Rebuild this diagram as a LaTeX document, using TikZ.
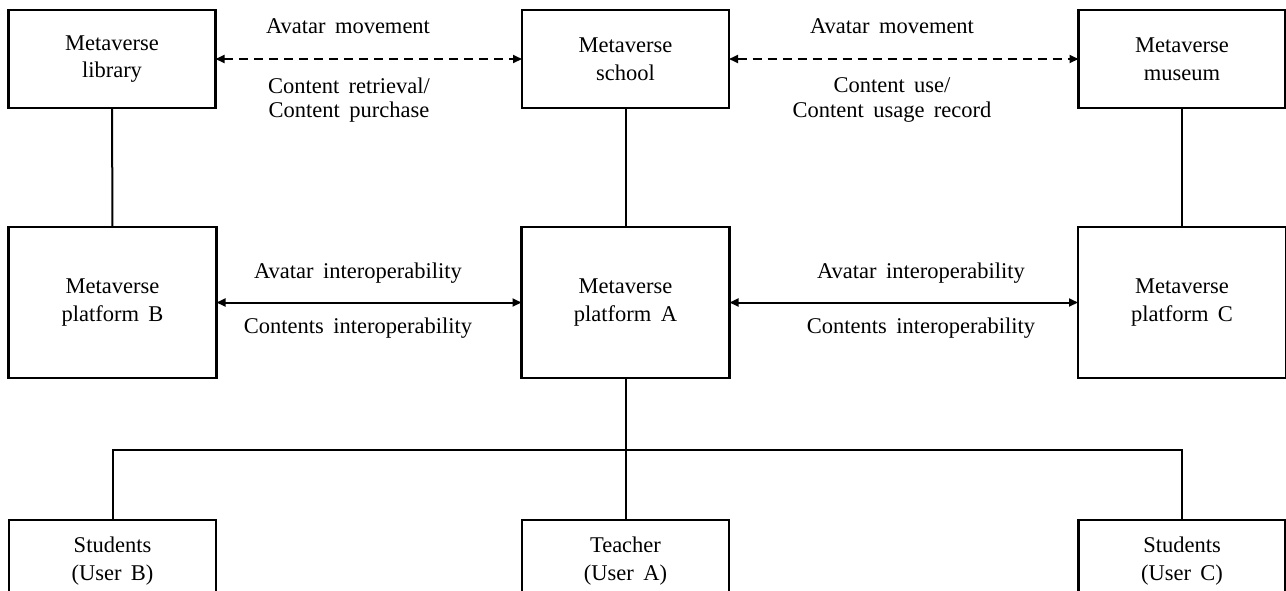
\documentclass[tikz,border=0pt]{standalone}
\usepackage{fontspec}
\setmainfont{Liberation Serif}
\usetikzlibrary{arrows.meta}

% body font used for every text in the figure
\newcommand{\figfont}{\fontsize{22.5}{27.5}\selectfont\spaceskip=0.42em plus 0.1em minus 0.1em\relax}
\newcommand{\labfont}{\fontsize{22.5}{24.5}\selectfont\spaceskip=0.42em plus 0.1em minus 0.1em\relax}

\tikzset{
  unitbox/.style={draw, line width=2.2pt, inner sep=0pt, outer sep=0pt,
    align=center, font=\figfont},
  topbox/.style={unitbox, minimum width=207pt, minimum height=98pt},
  platbox/.style={unitbox, minimum width=208pt, minimum height=151pt},
  userbox/.style={unitbox, minimum width=207pt, minimum height=82pt},
  link/.style={line width=2pt},
  tip/.style={{Triangle[length=9pt,width=8pt]}-{Triangle[length=9pt,width=8pt]}},
  dashlink/.style={link, tip, dash pattern=on 9pt off 6pt},
  solidlink/.style={link, tip},
  lab/.style={align=center, font=\labfont, inner sep=0pt}
}

\begin{document}
\begin{tikzpicture}[x=1pt, y=-1pt]
  \useasboundingbox (0,0) rectangle (1286,590);
  \clip (0,0) rectangle (1286,590);
  \fill[white] (0,0) rectangle (1286,590);

  % top row: metaverse spaces
  \node[topbox] (lib) at (112,59)    {Metaverse\\library};
  \node[topbox] (sch) at (625.5,59)  {Metaverse\\school};
  \node[topbox] (mus) at (1182,59)   {Metaverse\\museum};

  % middle row: platforms
  \node[platbox] (pb) at (112.5,302.5) {Metaverse\\platform B};
  \node[platbox] (pa) at (625.5,302.5) {Metaverse\\platform A};
  \node[platbox] (pc) at (1182,302.5)  {Metaverse\\platform C};

  % bottom row: users
  \node[userbox] (ub) at (112.5,561) {Students\\(User B)};
  \node[userbox] (ua) at (625.5,561) {Teacher\\(User A)};
  \node[userbox] (uc) at (1182,561)  {Students\\(User C)};

  % space-to-platform links
  \draw[link] (lib.south) -- (pb.north);
  \draw[link] (sch.south) -- (pa.north);
  \draw[link] (mus.south) -- (pc.north);

  % user tree under platform A
  \coordinate (bus) at (625.5,450);
  \draw[link] (pa.south) -- (bus);
  \draw[link] (ub.north) |- (bus) -| (uc.north);
  \draw[link] (bus) -- (ua.north);

  % avatar movement between spaces
  \draw[dashlink] (lib.east) -- (sch.west);
  \draw[dashlink] (sch.east) -- (mus.west);

  % interoperability between platforms
  \draw[solidlink] (pb.east) -- (pa.west);
  \draw[solidlink] (pa.east) -- (pc.west);

  % labels
  \node[lab] (l1) at (348,26)  {Avatar movement};
  \node[lab] (l2) at (349,100) {Content retrieval/\\Content purchase};
  \node[lab] (l3) at (892,26)  {Avatar movement};
  \node[lab] (l4) at (892,100) {Content use/\\Content usage record};
  \node[lab] (l5) at (358,273) {Avatar interoperability};
  \node[lab] (l6) at (358,328) {Contents interoperability};
  \node[lab] (l7) at (921,273) {Avatar interoperability};
  \node[lab] (l8) at (921,328) {Contents interoperability};
\end{tikzpicture}
\end{document}
